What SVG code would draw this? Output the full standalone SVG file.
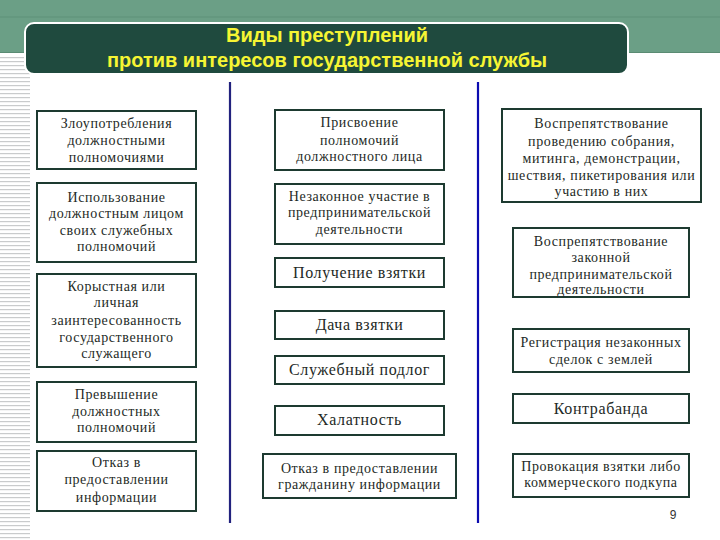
<svg xmlns="http://www.w3.org/2000/svg" width="720" height="540" viewBox="0 0 720 540">
<defs>
<pattern id="stripes" width="30" height="4" patternUnits="userSpaceOnUse">
<rect width="30" height="4" fill="#ffffff"/>
<rect width="30" height="1.2" y="1" fill="#c9cbcc"/>
</pattern>
<style>
.box{fill:#ffffff;stroke:#1d3a30;stroke-width:2}
.t{font-family:"Liberation Serif","Times New Roman",serif;font-size:14px;letter-spacing:0.6px;fill:#1e2a26;text-anchor:middle}
.b{font-size:16px}
.title{font-family:"Liberation Sans",Arial,sans-serif;font-weight:bold;font-size:20px;fill:#f6f533;text-anchor:middle}
.div{stroke-width:2.2;fill:none}
</style>
</defs>
<rect width="720" height="540" fill="#ffffff"/>
<rect x="0" y="55" width="30" height="485" fill="url(#stripes)"/>
<rect x="0" y="0" width="720" height="53" fill="#6b9f86"/>
<line x1="0" y1="17" x2="720" y2="17" stroke="#5e9179" stroke-width="1"/>
<line x1="0" y1="52.5" x2="720" y2="52.5" stroke="#5a8b73" stroke-width="1"/>
<g id="title">
<rect x="25" y="23" width="603" height="51" rx="9" fill="#1f4a3e" stroke="#ffffff" stroke-width="2"/>
<text class="title" x="327" y="42">Виды преступлений</text>
<text class="title" x="327" y="67">против интересов государственной службы</text>
</g>
<g id="dividers">
<line class="div" x1="230" y1="82" x2="230" y2="523" stroke="#22227e"/>
<line class="div" x1="478" y1="82" x2="478" y2="523" stroke="#0c0cb0"/>
</g>
<g id="L1"><rect class="box" x="37" y="111" width="159" height="58"/>
<text class="t" x="116.5" y="128">Злоупотребления</text><text class="t" x="116.5" y="145">должностными</text><text class="t" x="116.5" y="162">полномочиями</text></g>
<g id="L2"><rect class="box" x="37" y="183" width="159" height="79"/>
<text class="t" x="116.5" y="202">Использование</text><text class="t" x="116.5" y="218">должностным лицом</text><text class="t" x="116.5" y="235">своих служебных</text><text class="t" x="116.5" y="251">полномочий</text></g>
<g id="L3"><rect class="box" x="37" y="274" width="159" height="93"/>
<text class="t" x="116.5" y="291">Корыстная или</text><text class="t" x="116.5" y="307">личная</text><text class="t" x="116.5" y="325">заинтересованность</text><text class="t" x="116.5" y="342">государственного</text><text class="t" x="116.5" y="358">служащего</text></g>
<g id="L4"><rect class="box" x="37" y="382" width="159" height="60"/>
<text class="t" x="116.5" y="399">Превышение</text><text class="t" x="116.5" y="416">должностных</text><text class="t" x="116.5" y="432">полномочий</text></g>
<g id="L5"><rect class="box" x="37" y="451" width="159" height="60"/>
<text class="t" x="116.5" y="467">Отказ в</text><text class="t" x="116.5" y="484">предоставлении</text><text class="t" x="116.5" y="502">информации</text></g>
<g id="M1"><rect class="box" x="275" y="110" width="169" height="60"/>
<text class="t" x="359.5" y="127">Присвоение</text><text class="t" x="359.5" y="145">полномочий</text><text class="t" x="359.5" y="161">должностного лица</text></g>
<g id="M2"><rect class="box" x="275" y="184" width="169" height="60"/>
<text class="t" x="359.5" y="201">Незаконное участие в</text><text class="t" x="359.5" y="217">предпринимательской</text><text class="t" x="359.5" y="234">деятельности</text></g>
<g id="M3"><rect class="box" x="275" y="258" width="169" height="29"/>
<text class="t b" x="359.5" y="278">Получение взятки</text></g>
<g id="M4"><rect class="box" x="275" y="311" width="169" height="28"/>
<text class="t b" x="359.5" y="330">Дача взятки</text></g>
<g id="M5"><rect class="box" x="275" y="356" width="169" height="28"/>
<text class="t b" x="359.5" y="375">Служебный подлог</text></g>
<g id="M6"><rect class="box" x="275" y="406" width="169" height="29"/>
<text class="t b" x="359.5" y="425">Халатность</text></g>
<g id="M7"><rect class="box" x="263" y="454" width="193" height="44"/>
<text class="t" x="359.5" y="473">Отказ в предоставлении</text><text class="t" x="359.5" y="489">гражданину информации</text></g>
<g id="R1"><rect class="box" x="502" y="109" width="199" height="93"/>
<text class="t" x="601.5" y="128">Воспрепятствование</text><text class="t" x="601.5" y="146">проведению собрания,</text><text class="t" x="601.5" y="163">митинга, демонстрации,</text><text class="t" x="601.5" y="180">шествия, пикетирования или</text><text class="t" x="601.5" y="196">участию в них</text></g>
<g id="R2"><rect class="box" x="513" y="228" width="176" height="69"/>
<text class="t" x="601" y="246">Воспрепятствование</text><text class="t" x="601" y="262">законной</text><text class="t" x="601" y="279">предпринимательской</text><text class="t" x="601" y="294">деятельности</text></g>
<g id="R3"><rect class="box" x="513" y="329" width="176" height="43"/>
<text class="t" x="601" y="347">Регистрация незаконных</text><text class="t" x="601" y="364">сделок с землей</text></g>
<g id="R4"><rect class="box" x="513" y="394" width="176" height="29"/>
<text class="t b" x="601" y="414">Контрабанда</text></g>
<g id="R5"><rect class="box" x="513" y="454" width="176" height="43"/>
<text class="t" x="601" y="471">Провокация взятки либо</text><text class="t" x="601" y="487">коммерческого подкупа</text></g>
<text x="673" y="519" font-family="Liberation Sans,Arial,sans-serif" font-size="12" fill="#333333" text-anchor="middle">9</text>
</svg>
